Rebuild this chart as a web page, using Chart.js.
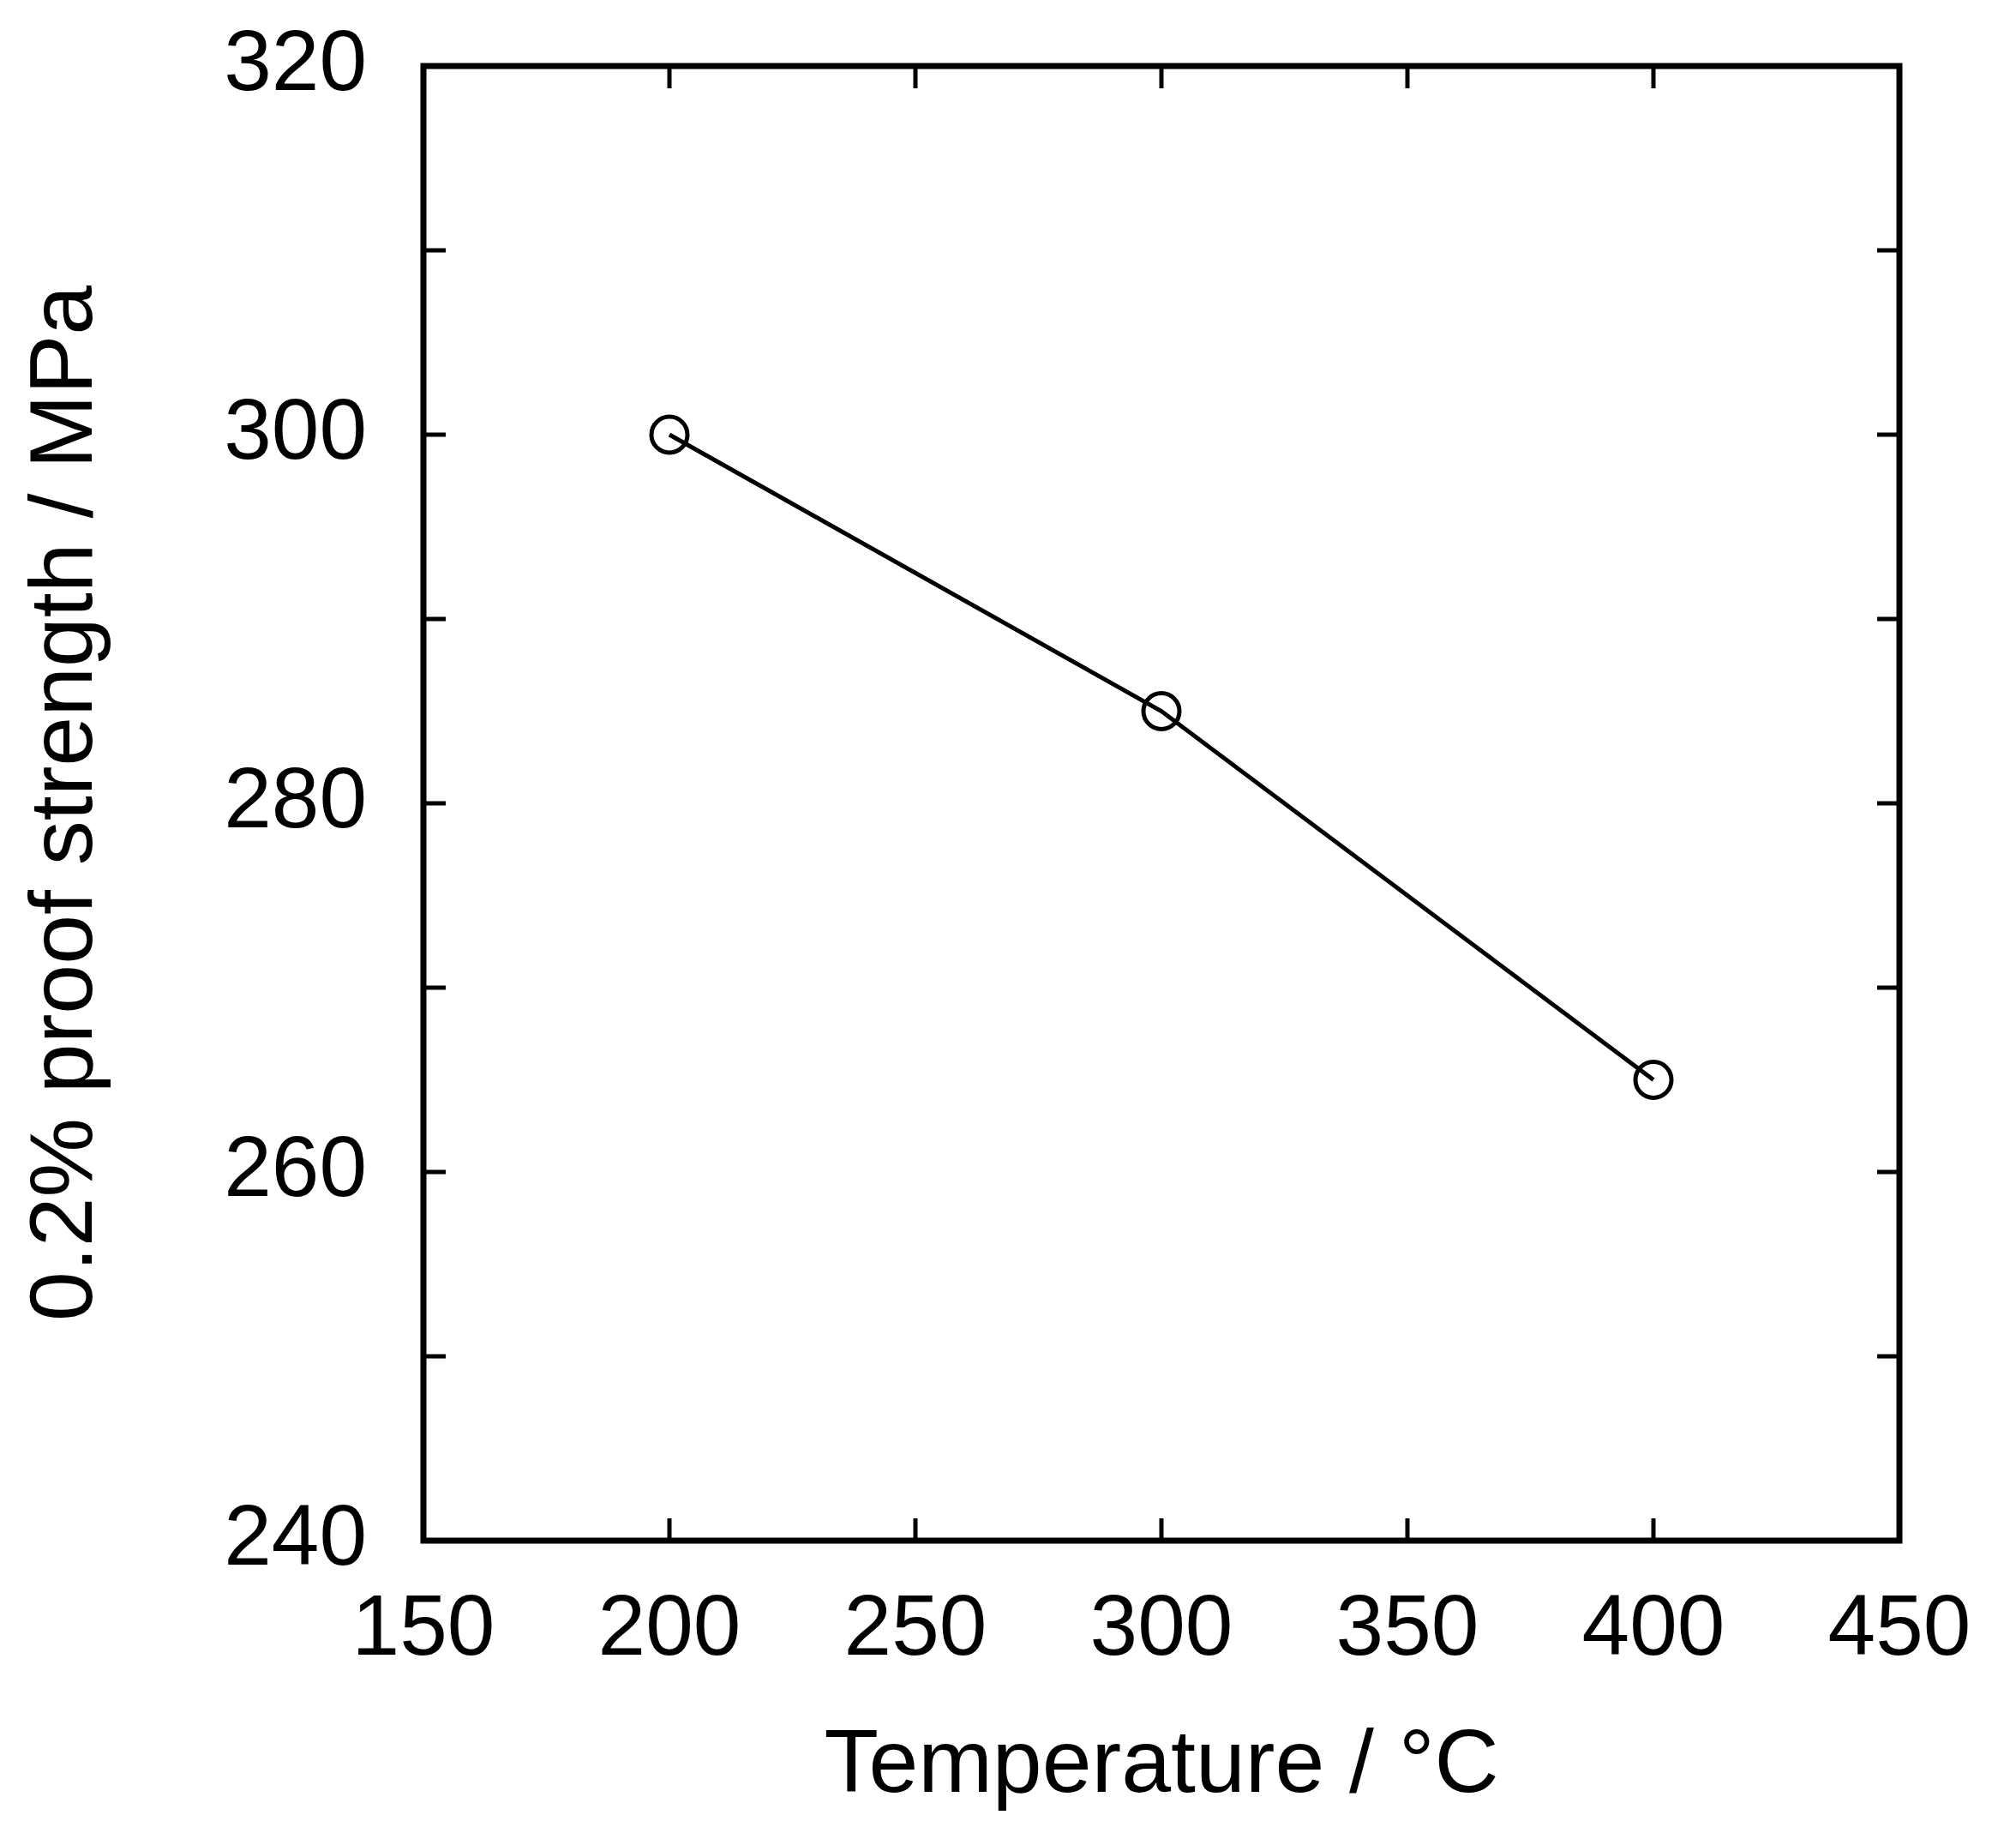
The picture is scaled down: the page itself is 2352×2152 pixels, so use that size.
<!DOCTYPE html>
<html>
<head>
<meta charset="utf-8">
<script src="https://cdn.jsdelivr.net/npm/chart.js@4/dist/chart.umd.min.js"></script>
<style>
  html, body { margin: 0; padding: 0; background: #fff; }
  #wrap { width: 2352px; height: 2152px; }
</style>
</head>
<body>
<div id="wrap"><canvas id="chart" width="2352" height="2152"></canvas></div>
<script>
const temperatures = [200, 300, 400];
const proofStrength = [300, 285, 265];
const xRange = [150, 450];
const yRange = [240, 320];

const FONT = "'Liberation Sans', Arial, sans-serif";

// inward tick marks on all four sides plus the box frame
const frameTicks = {
  id: "frameTicks",
  afterDraw(chart) {
    const { ctx, chartArea: a } = chart;
    const x = chart.scales.x;
    const y = chart.scales.y;
    const len = 26;
    ctx.save();
    ctx.strokeStyle = "#000";
    ctx.lineWidth = 5;
    ctx.lineCap = "butt";
    x.ticks.forEach((t) => {
      const px = x.getPixelForValue(t.value);
      ctx.beginPath();
      ctx.moveTo(px, a.bottom);
      ctx.lineTo(px, a.bottom - len);
      ctx.moveTo(px, a.top);
      ctx.lineTo(px, a.top + len);
      ctx.stroke();
    });
    y.ticks.forEach((t) => {
      const py = y.getPixelForValue(t.value);
      ctx.beginPath();
      ctx.moveTo(a.left, py);
      ctx.lineTo(a.left + len, py);
      ctx.moveTo(a.right, py);
      ctx.lineTo(a.right - len, py);
      ctx.stroke();
    });
    ctx.lineWidth = 7;
    ctx.lineJoin = "miter";
    ctx.strokeRect(a.left, a.top, a.right - a.left, a.bottom - a.top);
    ctx.restore();
  },
};

new Chart(document.getElementById("chart"), {
  type: "scatter",
  data: {
    datasets: [
      {
        data: temperatures.map((t, i) => ({ x: t, y: proofStrength[i] })),
        showLine: true,
        borderColor: "#000",
        borderWidth: 5,
        pointRadius: 21,
        pointBorderWidth: 5,
        pointBorderColor: "#000",
        pointBackgroundColor: "rgba(0,0,0,0)",
        tension: 0,
      },
    ],
  },
  options: {
    responsive: false,
    animation: false,
    layout: { autoPadding: false, padding: { top: 77, right: 136, left: 0, bottom: 0 } },
    plugins: { legend: { display: false }, tooltip: { enabled: false } },
    scales: {
      x: {
        type: "linear",
        min: xRange[0],
        max: xRange[1],
        afterFit(scale) {
          scale.height = 355;
          scale.paddingLeft = 0;
          scale.paddingRight = 0;
        },
        border: { display: false },
        grid: { display: false, drawTicks: false },
        ticks: {
          stepSize: 50,
          padding: 45,
          color: "#000",
          font: { family: FONT, size: 100 },
          maxRotation: 0,
        },
        title: {
          display: true,
          text: "Temperature / \u00B0C",
          color: "#000",
          font: { family: FONT, size: 104 },
          padding: { top: 0, bottom: 28 },
        },
      },
      y: {
        type: "linear",
        min: yRange[0],
        max: yRange[1],
        afterFit(scale) {
          scale.width = 494;
          scale.paddingTop = 0;
          scale.paddingBottom = 0;
        },
        border: { display: false },
        grid: { display: false, drawTicks: false },
        ticks: {
          stepSize: 10,
          padding: 66,
          color: "#000",
          font: { family: FONT, size: 100 },
          callback: (v) => (v % 20 === 0 ? String(v) : ""),
        },
        title: {
          display: true,
          text: "0.2% proof strength / MPa",
          color: "#000",
          font: { family: FONT, size: 104 },
          padding: { top: 16, bottom: 0 },
        },
      },
    },
  },
  plugins: [frameTicks],
});
</script>
</body>
</html>
